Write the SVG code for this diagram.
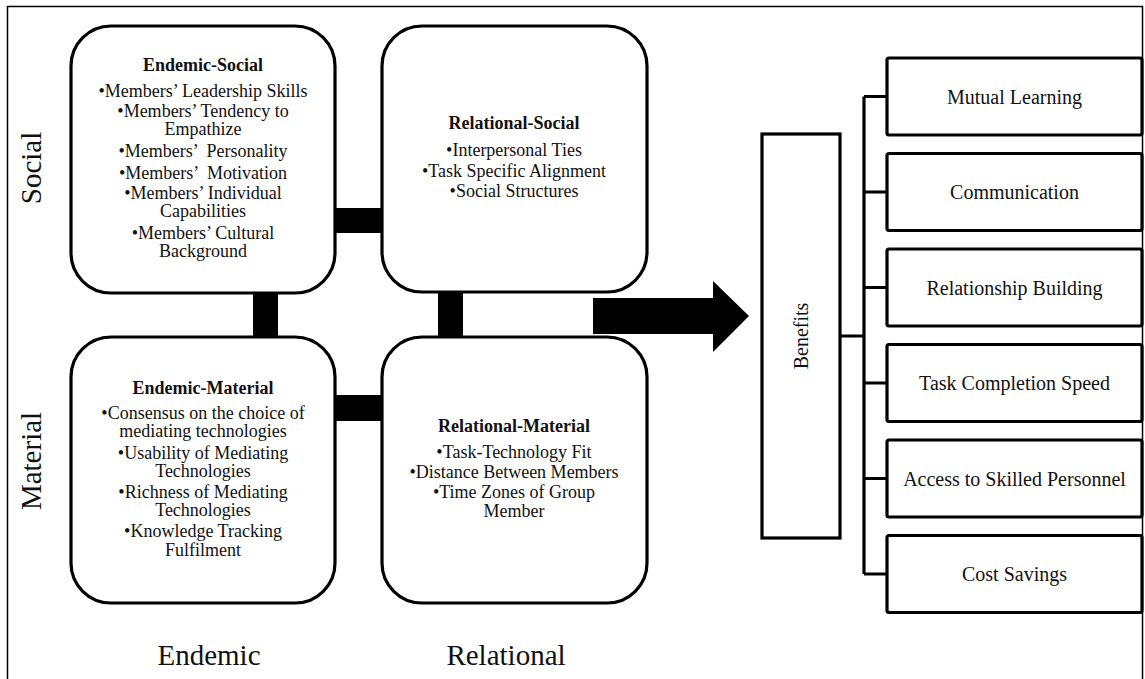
<svg xmlns="http://www.w3.org/2000/svg" width="1145" height="679" viewBox="0 0 1145 679">
<style>
text{font-family:"Liberation Serif","Times New Roman",serif;fill:#111;}
.t{font-size:18px;font-weight:bold;text-anchor:middle;}
.b{font-size:18px;text-anchor:middle;white-space:pre;}
.ax{font-size:29px;text-anchor:middle;}
.lab{font-size:20px;text-anchor:middle;}
.rb{fill:#fff;stroke:#000;stroke-width:3.2;}
.bx{fill:#fff;stroke:#000;stroke-width:3.2;}
.ln{fill:none;stroke:#000;stroke-width:3.2;}
</style>
<rect x="0" y="0" width="1145" height="679" fill="#fff"/>
<rect x="7.5" y="6.5" width="1135" height="700" fill="none" stroke="#000" stroke-width="1.5"/>
<g id="axes">
<text class="ax" transform="translate(41,168) rotate(-90)">Social</text>
<text class="ax" transform="translate(41,461) rotate(-90)">Material</text>
<text class="ax" x="209" y="665">Endemic</text>
<text class="ax" x="506" y="665">Relational</text>
</g>
<g id="connectors">
<rect x="335" y="208" width="47" height="25" fill="#000"/>
<rect x="253" y="293" width="25" height="44" fill="#000"/>
<rect x="438" y="292" width="25" height="45" fill="#000"/>
<rect x="335" y="395" width="47" height="26" fill="#000"/>
<polygon points="593,298 713,298 713,281 749,316 713,352 713,334 593,334" fill="#000"/>
<path class="ln" d="M840,336 H864 M864,96.5 V574 M864,96.5 H887 M864,192 H887 M864,287.5 H887 M864,383 H887 M864,478.5 H887 M864,574 H887"/>
</g>
<g id="endemic-social">
<rect class="rb" x="71" y="26" width="264" height="267" rx="40"/>
<text class="t" x="203" y="71">Endemic-Social</text>
<text class="b" x="203" y="97">•Members’ Leadership Skills</text>
<text class="b" x="203" y="117">•Members’ Tendency to</text>
<text class="b" x="203" y="135">Empathize</text>
<text class="b" x="203" y="157">•Members’  Personality</text>
<text class="b" x="203" y="179">•Members’  Motivation</text>
<text class="b" x="203" y="199">•Members’ Individual</text>
<text class="b" x="203" y="217">Capabilities</text>
<text class="b" x="203" y="239">•Members’ Cultural</text>
<text class="b" x="203" y="257">Background</text>
</g>
<g id="relational-social">
<rect class="rb" x="382" y="26" width="265" height="266" rx="40"/>
<text class="t" x="514" y="129">Relational-Social</text>
<text class="b" x="514" y="156">•Interpersonal Ties</text>
<text class="b" x="514" y="177">•Task Specific Alignment</text>
<text class="b" x="514" y="197">•Social Structures</text>
</g>
<g id="endemic-material">
<rect class="rb" x="71" y="337" width="264" height="266" rx="40"/>
<text class="t" x="203" y="394">Endemic-Material</text>
<text class="b" x="203" y="419">•Consensus on the choice of</text>
<text class="b" x="203" y="437">mediating technologies</text>
<text class="b" x="203" y="459">•Usability of Mediating</text>
<text class="b" x="203" y="477">Technologies</text>
<text class="b" x="203" y="498">•Richness of Mediating</text>
<text class="b" x="203" y="516">Technologies</text>
<text class="b" x="203" y="537">•Knowledge Tracking</text>
<text class="b" x="203" y="556">Fulfilment</text>
</g>
<g id="relational-material">
<rect class="rb" x="382" y="337" width="265" height="266" rx="40"/>
<text class="t" x="514" y="432">Relational-Material</text>
<text class="b" x="514" y="458">•Task-Technology Fit</text>
<text class="b" x="514" y="478">•Distance Between Members</text>
<text class="b" x="514" y="498">•Time Zones of Group</text>
<text class="b" x="514" y="517">Member</text>
</g>
<g id="benefits">
<rect class="bx" x="762" y="134" width="78" height="404"/>
<text class="lab" transform="translate(808,336) rotate(-90)">Benefits</text>
</g>
<g id="mutual-learning">
<rect class="bx" x="887" y="58" width="255" height="77" rx="2"/>
<text class="lab" x="1014.5" y="103.5">Mutual Learning</text>
</g>
<g id="communication">
<rect class="bx" x="887" y="153.5" width="255" height="77" rx="2"/>
<text class="lab" x="1014.5" y="199">Communication</text>
</g>
<g id="relationship-building">
<rect class="bx" x="887" y="249" width="255" height="77" rx="2"/>
<text class="lab" x="1014.5" y="294.5">Relationship Building</text>
</g>
<g id="task-completion-speed">
<rect class="bx" x="887" y="344.5" width="255" height="77" rx="2"/>
<text class="lab" x="1014.5" y="390">Task Completion Speed</text>
</g>
<g id="access-skilled-personnel">
<rect class="bx" x="887" y="440" width="255" height="77" rx="2"/>
<text class="lab" x="1014.5" y="485.5">Access to Skilled Personnel</text>
</g>
<g id="cost-savings">
<rect class="bx" x="887" y="535.5" width="255" height="77" rx="2"/>
<text class="lab" x="1014.5" y="581">Cost Savings</text>
</g>
</svg>
